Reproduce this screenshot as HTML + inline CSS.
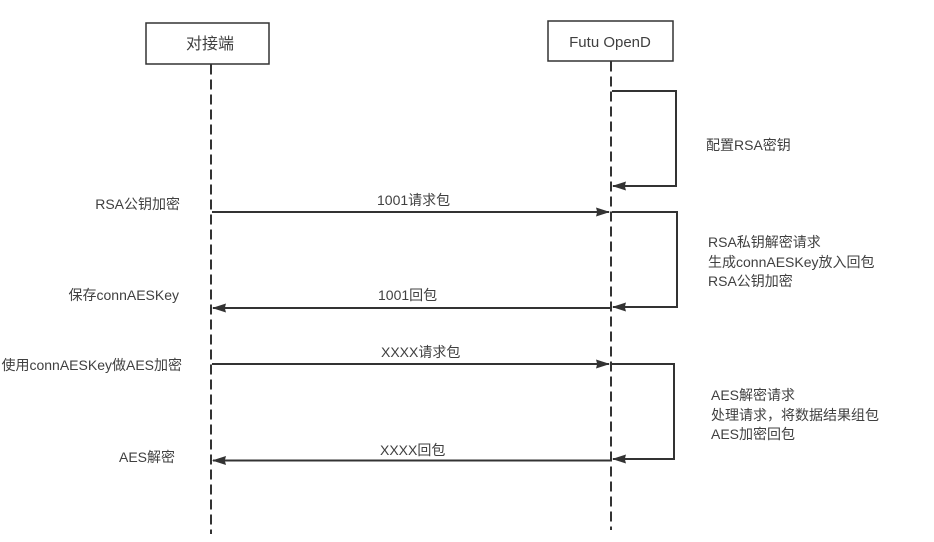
<!DOCTYPE html>
<html>
<head>
<meta charset="utf-8">
<style>
html,body{margin:0;padding:0;background:#fff;}
svg{display:block;}
text{font-family:"Liberation Sans","Noto Sans CJK SC",sans-serif;fill:#404040;font-size:14px;}
</style>
</head>
<body>
<svg width="934" height="542" viewBox="0 0 934 542" xmlns="http://www.w3.org/2000/svg">
  <defs>
    <marker id="ah" viewBox="0 0 14 10" refX="13" refY="5" markerWidth="14" markerHeight="10" markerUnits="userSpaceOnUse" orient="auto">
      <path d="M0,0.5 L14,5 L0,9.5 L1.2,5 Z" fill="#333"/>
    </marker>
  </defs>

  <!-- participant boxes -->
  <rect x="146" y="23" width="123" height="41" fill="#fff" stroke="#333" stroke-width="1.5"/>
  <text x="210" y="49" text-anchor="middle" style="font-size:16px">对接端</text>
  <rect x="548" y="21" width="125" height="40" fill="#fff" stroke="#333" stroke-width="1.5"/>
  <text x="610" y="47" text-anchor="middle" style="font-size:15px">Futu OpenD</text>

  <!-- lifelines -->
  <line x1="211" y1="64.5" x2="211" y2="534" stroke="#333" stroke-width="2" stroke-dasharray="10 5"/>
  <line x1="611" y1="61.5" x2="611" y2="530" stroke="#333" stroke-width="2" stroke-dasharray="10 5"/>

  <!-- self loop 1 -->
  <polyline points="612,91 676,91 676,186 613,186" fill="none" stroke="#333" stroke-width="2" marker-end="url(#ah)"/>
  <text x="706" y="150">配置RSA密钥</text>

  <!-- message 1 -->
  <line x1="212" y1="212" x2="609" y2="212" stroke="#333" stroke-width="2" marker-end="url(#ah)"/>
  <text x="377" y="205">1001请求包</text>
  <text x="180" y="209" text-anchor="end">RSA公钥加密</text>

  <!-- self loop 2 -->
  <polyline points="612,212 677,212 677,307 613,307" fill="none" stroke="#333" stroke-width="2" marker-end="url(#ah)"/>
  <text x="708" y="247">RSA私钥解密请求</text>
  <text x="708" y="267">生成connAESKey放入回包</text>
  <text x="708" y="286">RSA公钥加密</text>

  <!-- message 2 -->
  <line x1="610" y1="308" x2="213" y2="308" stroke="#333" stroke-width="2" marker-end="url(#ah)"/>
  <text x="378" y="300">1001回包</text>
  <text x="179" y="300" text-anchor="end">保存connAESKey</text>

  <!-- message 3 -->
  <line x1="212" y1="364" x2="609" y2="364" stroke="#333" stroke-width="2" marker-end="url(#ah)"/>
  <text x="381" y="357">XXXX请求包</text>
  <text x="182" y="370" text-anchor="end">使用connAESKey做AES加密</text>

  <!-- self loop 3 -->
  <polyline points="612,364 674,364 674,459 613,459" fill="none" stroke="#333" stroke-width="2" marker-end="url(#ah)"/>
  <text x="711" y="400">AES解密请求</text>
  <text x="711" y="420">处理请求，将数据结果组包</text>
  <text x="711" y="439">AES加密回包</text>

  <!-- message 4 -->
  <line x1="610" y1="460.5" x2="213" y2="460.5" stroke="#333" stroke-width="2" marker-end="url(#ah)"/>
  <text x="380" y="455">XXXX回包</text>
  <text x="175" y="462" text-anchor="end">AES解密</text>
</svg>
</body>
</html>
